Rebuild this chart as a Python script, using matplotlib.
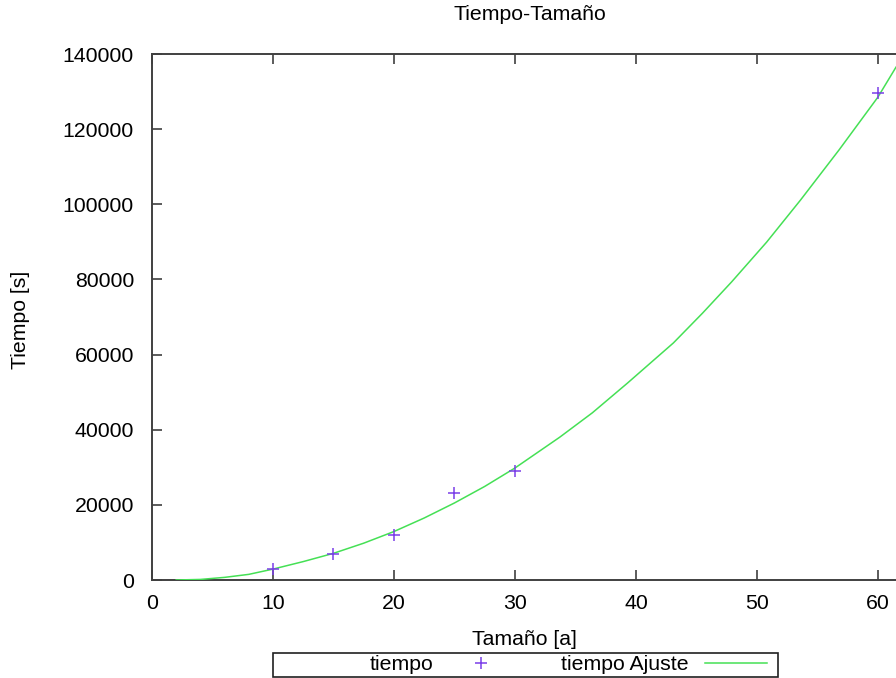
import matplotlib

matplotlib.use("Agg")
import matplotlib.pyplot as plt
from matplotlib.patches import Rectangle

plt.rcParams["font.family"] = ["Liberation Sans", "DejaVu Sans"]

# measured points
tamano = [10, 15, 20, 25, 30, 60]
tiempo = [2900, 6900, 12000, 23100, 29000, 129600]

# fitted curve
ajuste_x = [2, 4, 6, 8, 10, 12.5, 15, 17.5, 20, 22.5, 25, 27.5, 30, 33.7, 36.4, 39.3,
            43.1, 45.5, 47.9, 50.8, 53.6, 56.8, 60, 61.5]
ajuste_y = [0, 150, 700, 1500, 2900, 4900, 7100, 9800, 12900, 16500, 20500, 24900, 29800,
            38000, 44500, 52400, 63100, 71000, 79300, 89900, 101100, 114500, 128500, 136500]

xticks = [0, 10, 20, 30, 40, 50, 60]
yticks = [0, 20000, 40000, 60000, 80000, 100000, 120000, 140000]

W, H = 896, 678
FS = 15.3
fig = plt.figure(figsize=(W / 100, H / 100), dpi=100)
ax = fig.add_axes([152 / W, 98 / H, 744 / W, 526 / H])

ax.plot(ajuste_x, ajuste_y, color="#45e055", lw=1.1, label="tiempo Ajuste", zorder=3)
ax.plot(tamano, tiempo, ls="none", marker="+", ms=9, mew=1.1, color="#7b3fe8",
        label="tiempo", zorder=4)

ax.set_xlim(0, 61.5)
ax.set_ylim(0, 140000)
ax.set_xticks(xticks)
ax.set_yticks(yticks)
ax.tick_params(direction="in", length=7, width=1.2, color="#404040", labelsize=FS,
               top=True, right=False)
ax.tick_params(axis="x", pad=10)
ax.tick_params(axis="y", pad=13)
for side in ("left", "bottom", "top"):
    ax.spines[side].set_color("#404040")
    ax.spines[side].set_linewidth(1.4)
ax.spines["right"].set_visible(False)

ax.set_xlabel("Tamaño [a]", fontsize=FS, va="center")
ax.xaxis.set_label_coords(0.5007, -0.114)
ax.set_ylabel("Tiempo [s]", fontsize=FS, va="center")
ax.yaxis.set_label_coords(-0.1774, 0.494)
fig.text(530 / W, 1 - 15 / H, "Tiempo-Tamaño", ha="center", va="center", fontsize=FS)

# gnuplot-style key box below the plot
fig.patches.append(Rectangle((273 / W, 1 - 677 / H), 505 / W, 24 / H, transform=fig.transFigure,
                             fill=False, edgecolor="#202020", lw=1.2))
handles, labels = ax.get_legend_handles_labels()
fig.legend(handles[::-1], labels[::-1], loc="center right", bbox_to_anchor=(767 / W, 1 - 665 / H),
           ncol=2, markerfirst=False, frameon=False, fontsize=FS, handlelength=2.9,
           handletextpad=0.8, columnspacing=2.3, borderpad=0, borderaxespad=0)

fig.savefig("out.png", dpi=100)
